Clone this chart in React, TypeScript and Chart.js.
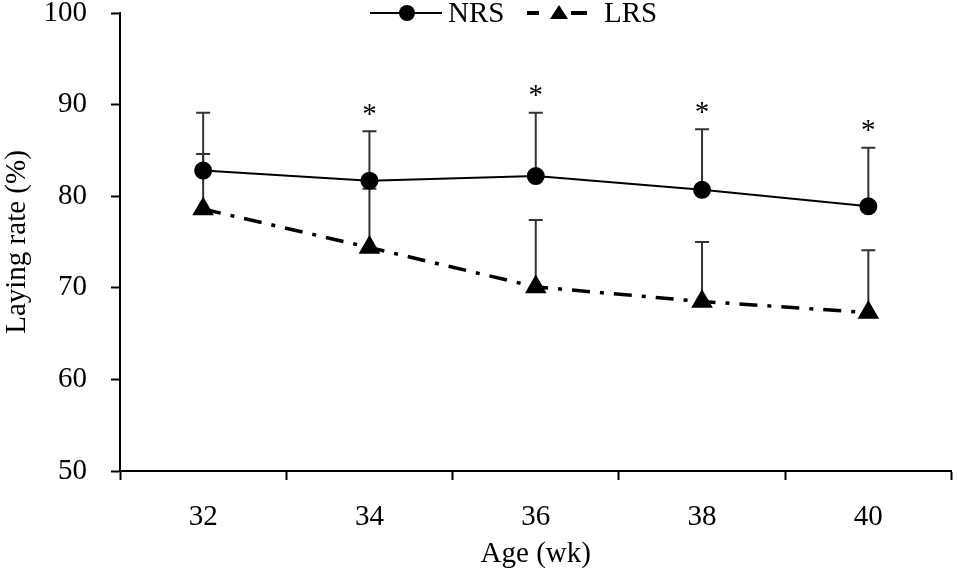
import React, { useEffect, useRef } from 'react';
import { Chart, registerables } from 'chart.js';

Chart.register(...registerables);

const ages = ['32', '34', '36', '38', '40'];
const nrsMean = [82.8, 81.7, 82.2, 80.7, 78.9];
const nrsSd = [6.3, 5.4, 6.9, 6.6, 6.4];
const lrsMean = [78.6, 74.4, 70.1, 68.5, 67.3];
const lrsSd = [6.0, 6.4, 7.3, 6.5, 6.8];
const nrsSig = ['', '*', '*', '*', '*'];

const FONT = '"Liberation Serif", "Times New Roman", serif';
const SIZE = 29;

const errorBars = {
    id: 'errorBars',
    beforeDatasetsDraw(chart: any) {
        const { ctx, scales } = chart;
        const sets = [
            { mean: nrsMean, sd: nrsSd },
            { mean: lrsMean, sd: lrsSd },
        ];
        ctx.save();
        ctx.strokeStyle = '#333';
        ctx.lineWidth = 2;
        sets.forEach((s) => {
            s.mean.forEach((m, i) => {
                const x = scales.x.getPixelForValue(i);
                const y0 = scales.y.getPixelForValue(m);
                const y1 = scales.y.getPixelForValue(m + s.sd[i]);
                ctx.beginPath();
                ctx.moveTo(x, y0);
                ctx.lineTo(x, y1);
                ctx.moveTo(x - 7, y1);
                ctx.lineTo(x + 7, y1);
                ctx.stroke();
            });
        });
        ctx.restore();
    },
    afterDatasetsDraw(chart: any) {
        const { ctx, scales } = chart;
        ctx.save();
        ctx.fillStyle = '#000';
        ctx.font = `${SIZE}px ${FONT}`;
        ctx.textAlign = 'center';
        ctx.textBaseline = 'middle';
        nrsSig.forEach((t, i) => {
            if (!t) return;
            const x = scales.x.getPixelForValue(i);
            const y = scales.y.getPixelForValue(nrsMean[i] + nrsSd[i]);
            ctx.fillText(t, x, y - 16);
        });

        // legend
        const ly = 13;
        ctx.strokeStyle = '#000';
        ctx.lineWidth = 2;
        ctx.beginPath();
        ctx.moveTo(370, ly);
        ctx.lineTo(442, ly);
        ctx.stroke();
        ctx.beginPath();
        ctx.arc(407, ly, 8, 0, Math.PI * 2);
        ctx.fill();
        ctx.textAlign = 'left';
        ctx.fillText('NRS', 448, ly + 1);

        ctx.lineWidth = 4;
        ctx.beginPath();
        ctx.moveTo(527, ly);
        ctx.lineTo(539, ly);
        ctx.moveTo(571, ly);
        ctx.lineTo(587, ly);
        ctx.stroke();
        ctx.beginPath();
        ctx.moveTo(559, ly - 8);
        ctx.lineTo(568, ly + 6);
        ctx.lineTo(550, ly + 6);
        ctx.closePath();
        ctx.fill();
        ctx.fillText('LRS', 604, ly + 1);
        ctx.restore();
    },
};

const App: React.FC = () => {
    const canvasRef = useRef<HTMLCanvasElement | null>(null);

    useEffect(() => {
        const canvas = canvasRef.current;
        if (!canvas) return;
        const chart = new Chart(canvas, {
            type: 'line',
            data: {
                labels: ages,
                datasets: [
                    {
                        label: 'NRS',
                        data: nrsMean,
                        borderColor: '#000',
                        backgroundColor: '#000',
                        borderWidth: 2,
                        pointStyle: 'circle',
                        pointRadius: 8,
                        pointHoverRadius: 8,
                    },
                    {
                        label: 'LRS',
                        data: lrsMean,
                        borderColor: '#000',
                        backgroundColor: '#000',
                        borderWidth: 3.5,
                        borderDash: [18, 10, 4, 10],
                        pointStyle: 'triangle',
                        pointRadius: 9,
                        pointHoverRadius: 9,
                    },
                ],
            },
            options: {
                animation: false,
                responsive: true,
                maintainAspectRatio: false,
                layout: { padding: { top: 13, right: 0, left: 0, bottom: 0 } },
                plugins: {
                    legend: { display: false },
                    tooltip: { enabled: false },
                },
                scales: {
                    x: {
                        type: 'category',
                        offset: true,
                        grid: {
                            offset: true,
                            drawOnChartArea: false,
                            drawTicks: true,
                            tickLength: 9,
                            tickWidth: 2,
                            tickColor: '#000',
                        },
                        border: { color: '#000', width: 2 },
                        ticks: {
                            color: '#000',
                            padding: 20,
                            font: { family: FONT, size: SIZE },
                        },
                        title: {
                            display: true,
                            text: 'Age (wk)',
                            color: '#000',
                            font: { family: FONT, size: SIZE },
                            padding: { top: 0, bottom: 0 },
                        },
                        afterFit: (s: any) => {
                            s.height = 101;
                            s.paddingLeft = 0;
                            s.paddingRight = 0;
                        },
                    },
                    y: {
                        min: 50,
                        max: 100,
                        ticks: {
                            stepSize: 10,
                            color: '#000',
                            padding: 24,
                            font: { family: FONT, size: SIZE },
                        },
                        grid: {
                            drawOnChartArea: false,
                            drawTicks: true,
                            tickLength: 9,
                            tickWidth: 2,
                            tickColor: '#000',
                        },
                        border: { color: '#000', width: 2 },
                        title: {
                            display: true,
                            text: 'Laying rate (%)',
                            color: '#000',
                            font: { family: FONT, size: SIZE },
                            padding: { top: 0, bottom: 0 },
                        },
                        afterFit: (s: any) => {
                            s.width = 120;
                            s.paddingTop = 0;
                            s.paddingBottom = 0;
                        },
                    },
                },
            },
            plugins: [errorBars],
        });
        return () => {
            chart.destroy();
        };
    }, []);

    return (
        <div style={{ position: 'fixed', left: 0, top: 0, width: 957, height: 572, overflow: 'hidden', background: '#fff' }}>
            <div style={{ width: 964, height: 572 }}>
                <canvas ref={canvasRef} />
            </div>
        </div>
    );
};

export default App;
